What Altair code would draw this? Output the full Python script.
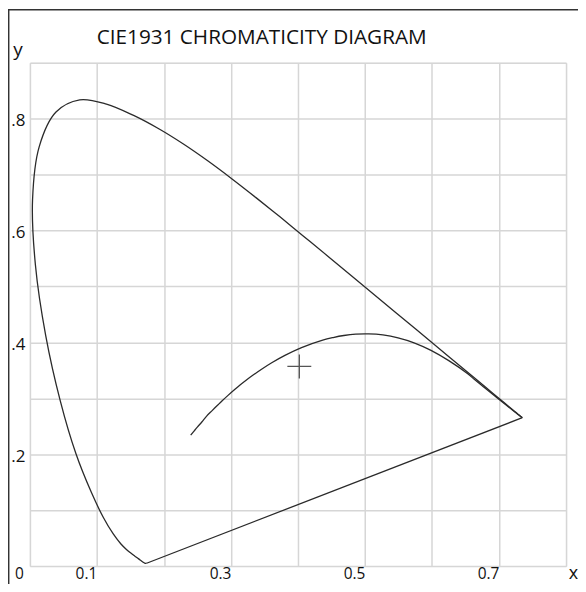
import altair as alt
import pandas as pd

# CIE 1931 spectral locus (wavelength nm, x, y)
spec_nm = [380, 385, 390, 395, 400, 405, 410, 415, 420, 425, 430, 435, 440, 445, 450,
           455, 460, 465, 470, 475, 480, 485, 490, 495, 500, 505, 510, 515, 520, 525,
           530, 535, 540, 545, 550, 555, 560, 565, 570, 575, 580, 585, 590, 595, 600,
           605, 610, 615, 620, 625, 630, 635, 640, 645, 650, 655, 660, 665, 670, 675,
           680, 685, 690, 695, 700]
spec_x = [0.1741, 0.1740, 0.1738, 0.1736, 0.1733, 0.1730, 0.1726, 0.1721, 0.1714, 0.1703,
          0.1689, 0.1669, 0.1644, 0.1611, 0.1566, 0.1510, 0.1440, 0.1355, 0.1241, 0.1096,
          0.0913, 0.0687, 0.0454, 0.0235, 0.0082, 0.0039, 0.0139, 0.0389, 0.0743, 0.1142,
          0.1547, 0.1929, 0.2296, 0.2658, 0.3016, 0.3373, 0.3731, 0.4087, 0.4441, 0.4788,
          0.5125, 0.5448, 0.5752, 0.6029, 0.6270, 0.6482, 0.6658, 0.6801, 0.6915, 0.7006,
          0.7079, 0.7140, 0.7190, 0.7230, 0.7260, 0.7283, 0.7300, 0.7311, 0.7320, 0.7327,
          0.7334, 0.7340, 0.7344, 0.7346, 0.7347]
spec_y = [0.0050, 0.0050, 0.0049, 0.0049, 0.0048, 0.0048, 0.0048, 0.0048, 0.0051, 0.0058,
          0.0069, 0.0086, 0.0109, 0.0138, 0.0177, 0.0227, 0.0297, 0.0399, 0.0578, 0.0868,
          0.1327, 0.2007, 0.2950, 0.4127, 0.5384, 0.6548, 0.7502, 0.8120, 0.8338, 0.8262,
          0.8059, 0.7816, 0.7543, 0.7243, 0.6923, 0.6589, 0.6245, 0.5896, 0.5547, 0.5202,
          0.4866, 0.4544, 0.4242, 0.3965, 0.3725, 0.3514, 0.3340, 0.3197, 0.3083, 0.2993,
          0.2920, 0.2859, 0.2809, 0.2770, 0.2740, 0.2717, 0.2700, 0.2689, 0.2680, 0.2673,
          0.2666, 0.2660, 0.2656, 0.2654, 0.2653]

# Planckian locus, from infinite temperature down to the red end
planck_x = [0.2399, 0.2452, 0.2501, 0.2565, 0.2637, 0.2719, 0.2807, 0.2869, 0.2952, 0.3064,
            0.3135, 0.3221, 0.3325, 0.3451, 0.3608, 0.3805, 0.4053, 0.4369, 0.4525, 0.4685,
            0.4862, 0.5056, 0.5267, 0.5493, 0.5732, 0.5985, 0.6250, 0.6528, 0.6644, 0.6776,
            0.6915, 0.7054, 0.7190, 0.7288, 0.7347]
planck_y = [0.2342, 0.2419, 0.2489, 0.2577, 0.2682, 0.2780, 0.2884, 0.2956, 0.3048, 0.3166,
            0.3237, 0.3318, 0.3411, 0.3516, 0.3636, 0.3768, 0.3907, 0.4041, 0.4087, 0.4123,
            0.4147, 0.4152, 0.4133, 0.4082, 0.3993, 0.3858, 0.3674, 0.3444, 0.3326, 0.3197,
            0.3062, 0.2929, 0.2801, 0.2708, 0.2653]

cross_x = [0.402]
cross_y = [0.357]

x_grid = [0.0, 0.1, 0.2, 0.3, 0.4, 0.5, 0.6, 0.7, 0.8]
y_grid = [0.0, 0.1, 0.2, 0.3, 0.4, 0.5, 0.6, 0.7, 0.8, 0.9]

TITLE = "CIE1931 CHROMATICITY DIAGRAM"
FONT = "Open Sans"
LINE = "#2a2a2a"

spec_df = pd.DataFrame({"x": spec_x, "y": spec_y, "i": list(range(len(spec_x)))})
purple_df = pd.DataFrame({"x": [spec_x[-1], spec_x[0]], "y": [spec_y[-1], spec_y[0]], "i": [0, 1]})
planck_df = pd.DataFrame({"x": planck_x, "y": planck_y, "i": list(range(len(planck_x)))})
cross_df = pd.DataFrame({"x": cross_x, "y": cross_y})
title_df = pd.DataFrame({"t": [TITLE]})

xscale = alt.Scale(domain=[0, 0.8], nice=False, zero=False)
yscale = alt.Scale(domain=[0, 0.9], nice=False, zero=False)

XL = "round(datum.value*10)"
xaxis = alt.Axis(
    values=x_grid, grid=True, gridColor="#d6d6d6", gridWidth=1.5,
    ticks=False, domain=False, labelFlush=False, labelOverlap=False,
    labelExpr=f"{XL} == 0 ? '0' : (({XL} == 1 || {XL} == 3 || {XL} == 5 || {XL} == 7) ? format(datum.value, '.1f') : '')",
    labelFont=FONT, labelFontSize=15.5, labelColor="#111", labelOffset=-11,
    labelBaseline="alphabetic", labelPadding=12,
    title="x", titleFont=FONT, titleFontSize=18, titleFontWeight="normal", titleColor="#111",
    titleX=545, titleY=12, titleAlign="center", titleBaseline="alphabetic",
)
yaxis = alt.Axis(
    values=y_grid, grid=True, gridColor="#d6d6d6", gridWidth=1.5,
    ticks=False, domain=False, labelFlush=False, labelOverlap=False,
    labelExpr=f"({XL} == 2 || {XL} == 4 || {XL} == 6 || {XL} == 8) ? replace(format(datum.value, '.1f'), '0.', '.') : ''",
    labelFont=FONT, labelFontSize=17, labelColor="#111", labelOffset=2, labelPadding=5,
    title="y", titleFont=FONT, titleFontSize=19, titleFontWeight="normal", titleColor="#111",
    titleAngle=0, titleX=-12.5, titleY=-7, titleAlign="center", titleBaseline="alphabetic",
)

spectral = alt.Chart(spec_df).mark_line(color=LINE, strokeWidth=1.3, interpolate="catmull-rom").encode(
    x=alt.X("x:Q", scale=xscale, axis=xaxis),
    y=alt.Y("y:Q", scale=yscale, axis=yaxis),
    order="i:Q",
)
purple = alt.Chart(purple_df).mark_line(color=LINE, strokeWidth=1.3).encode(
    x="x:Q", y="y:Q", order="i:Q",
)
planck = alt.Chart(planck_df).mark_line(color=LINE, strokeWidth=1.3, interpolate="catmull-rom").encode(
    x="x:Q", y="y:Q", order="i:Q",
)
cross = alt.Chart(cross_df).mark_point(
    shape="M-1,0L1,0M0,-1L0,1", size=576, filled=False, stroke="#555", strokeWidth=1.3, opacity=1,
).encode(x="x:Q", y="y:Q")

title = alt.Chart(title_df).mark_text(
    align="left", baseline="alphabetic", font=FONT, fontSize=20.8, color="#111",
).encode(text="t:N", x=alt.value(67), y=alt.value(-19))

frame_top = alt.Chart(cross_df).mark_rule(color="#333", strokeWidth=1.5, clip=False).encode(
    x=alt.value(-22), x2=alt.value(570), y=alt.value(-53.3),
)
frame_left = alt.Chart(cross_df).mark_rule(color="#333", strokeWidth=1.5, clip=False).encode(
    x=alt.value(-21.3), y=alt.value(-54), y2=alt.value(540),
)

chart = alt.layer(spectral, purple, planck, cross, title, frame_top, frame_left).properties(
    width=538, height=505,
    autosize=alt.AutoSizeParams(type="none"),
    padding={"left": 22, "top": 54, "right": 12, "bottom": 17},
).configure_view(stroke="#444", strokeWidth=1.5).configure(background="white")

chart.save("out.html", embed_options={"renderer": "svg", "actions": False})
